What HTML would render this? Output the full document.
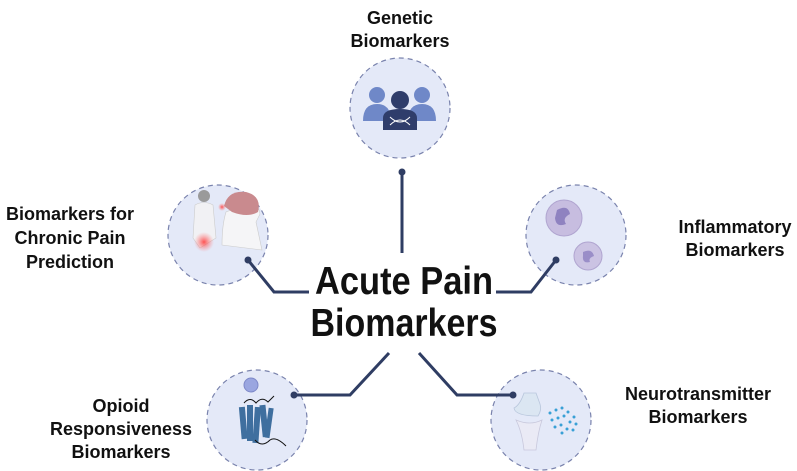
<!DOCTYPE html>
<html><head><meta charset="utf-8"><style>
html,body{margin:0;padding:0;background:#fff;width:797px;height:471px;overflow:hidden}
svg{display:block}
text{font-family:"Liberation Sans",Arial,sans-serif;font-weight:bold;fill:#111}
</style></head><body>
<svg width="797" height="471" viewBox="0 0 797 471" xmlns="http://www.w3.org/2000/svg">
<defs>
<radialGradient id="red"><stop offset="0" stop-color="#ff4040" stop-opacity="0.9"/><stop offset="1" stop-color="#ff8080" stop-opacity="0"/></radialGradient>
</defs>
<g fill="#e4e9f8" stroke="#7a83ad" stroke-width="1.2" stroke-dasharray="5,4">
<circle cx="400" cy="108" r="50"/>
<circle cx="218" cy="235" r="50"/>
<circle cx="576" cy="235" r="50"/>
<circle cx="257" cy="420" r="50"/>
<circle cx="541" cy="420" r="50"/>
</g>
<g stroke="#2f3d63" stroke-width="3" fill="none">
<path d="M402 172 V253"/>
<path d="M248 260 L274 292 H309"/>
<path d="M556 260 L531 292 H496"/>
<path d="M294 395 H350 L389 353"/>
<path d="M513 395 H457 L419 353"/>
</g>
<g fill="#2f3d63">
<circle cx="402" cy="172" r="3.5"/><circle cx="248" cy="260" r="3.5"/><circle cx="556" cy="260" r="3.5"/><circle cx="294" cy="395" r="3.5"/><circle cx="513" cy="395" r="3.5"/>
</g>
<g fill="#6f88c8">
<circle cx="377" cy="95" r="8"/><path d="M363 121 Q363 104 377 104 Q391 104 391 121 Z"/>
<circle cx="422" cy="95" r="8"/><path d="M408 121 Q408 104 422 104 Q436 104 436 121 Z"/>
</g>
<g fill="#2f3d6b"><circle cx="400" cy="100" r="9"/><path d="M383 130 V118 Q383 109 400 109 Q417 109 417 118 V130 Z"/></g>
<path d="M390 117 Q400 127 410 117 M390 125 Q400 115 410 125" stroke="#fff" stroke-width="1" fill="none"/>
<circle cx="204" cy="196" r="6" fill="#9a9a9a"/>
<path d="M195 205 Q204 200 213 205 L216 238 L200 248 L193 238 Z" fill="#f1f1f4" stroke="#ccc" stroke-width="0.6"/>
<circle cx="204" cy="242" r="10" fill="url(#red)"/>
<path d="M222 245 Q222 225 226 212 L244 205 Q258 200 260 214 L256 222 L262 250 Z" fill="#f5f5f7" stroke="#ccc" stroke-width="0.6"/>
<path d="M224 206 Q228 190 246 192 Q262 196 258 212 Q248 218 232 212 Z" fill="#c98a8e"/>
<circle cx="222" cy="207" r="4" fill="url(#red)"/>
<circle cx="564" cy="218" r="18" fill="#c7bde0" stroke="#b0a5d0"/>
<path d="M557 210 Q568 204 570 214 Q562 218 566 224 Q556 228 555 218 Z" fill="#8f82c0"/>
<circle cx="588" cy="256" r="14" fill="#cbc3e3" stroke="#b0a5d0"/>
<path d="M583 252 Q592 248 594 256 Q588 258 590 262 Q582 264 583 256 Z" fill="#9a8ec8"/>
<circle cx="251" cy="385" r="7" fill="#9aa6e0" stroke="#7d88c8"/>
<g fill="#3f6f9f">
<rect x="240" y="407" width="6" height="32" transform="rotate(-5 243 420)"/>
<rect x="247" y="405" width="6" height="36"/>
<rect x="254" y="407" width="6" height="36" transform="rotate(4 257 420)"/>
<rect x="261" y="405" width="6" height="32" transform="rotate(-6 264 420)"/>
<rect x="267" y="408" width="5" height="30" transform="rotate(8 270 420)"/>
</g>
<path d="M244 403 Q250 396 256 403 Q262 396 268 402 Q272 398 274 396 M255 440 Q262 448 270 440 Q276 436 286 446" stroke="#111" stroke-width="1" fill="none"/>
<path d="M524 393 Q520 405 514 408 Q515 416 538 416 Q542 410 540 404 L536 393 Z" fill="#dbe6f2" stroke="#b8c6dc" stroke-width="0.8"/>
<path d="M516 420 Q530 426 542 420 Q538 432 536 450 L524 450 Q522 432 516 420 Z" fill="#eaeaf5" stroke="#c8c8dc" stroke-width="0.8"/>
<g fill="#39a0d6">
<circle cx="550" cy="413" r="1.5"/><circle cx="556" cy="410" r="1.5"/><circle cx="562" cy="408" r="1.5"/><circle cx="568" cy="412" r="1.5"/><circle cx="574" cy="417" r="1.5"/>
<circle cx="552" cy="420" r="1.5"/><circle cx="558" cy="418" r="1.5"/><circle cx="564" cy="416" r="1.5"/><circle cx="570" cy="422" r="1.5"/><circle cx="576" cy="424" r="1.5"/>
<circle cx="555" cy="427" r="1.5"/><circle cx="561" cy="425" r="1.5"/><circle cx="567" cy="429" r="1.5"/><circle cx="573" cy="430" r="1.5"/><circle cx="562" cy="433" r="1.5"/>
</g>
<g font-size="18" text-anchor="middle">
<text x="400" y="24">Genetic</text><text x="400" y="47">Biomarkers</text>
<text x="70" y="220">Biomarkers for</text><text x="70" y="244">Chronic Pain</text><text x="70" y="268">Prediction</text>
<text x="735" y="233">Inflammatory</text><text x="735" y="256">Biomarkers</text>
<text x="121" y="412">Opioid</text><text x="121" y="435">Responsiveness</text><text x="121" y="458">Biomarkers</text>
<text x="698" y="400">Neurotransmitter</text><text x="698" y="423">Biomarkers</text>
</g>
<g font-size="39" text-anchor="middle">
<text x="404" y="294" textLength="178" lengthAdjust="spacingAndGlyphs">Acute Pain</text>
<text x="404" y="336" textLength="187" lengthAdjust="spacingAndGlyphs">Biomarkers</text>
</g>
</svg>
</body></html>
